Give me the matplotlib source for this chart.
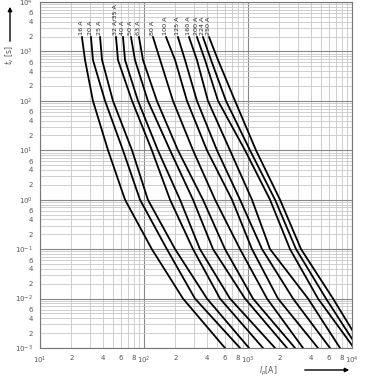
import math
import matplotlib
matplotlib.use("Agg")
import matplotlib.pyplot as plt
from matplotlib.patches import FancyArrowPatch
from matplotlib.ticker import LogLocator, FuncFormatter

# fuse ratings and the time levels the curves were read at
ratings = ['16 A', '20 A', '25 A', '32 A/35 A', '40 A', '50 A', '63 A',
           '80 A', '100 A', '125 A', '160 A', '200 A', '224 A', '250 A']
t_s = [1950, 670, 100, 10, 1, 0.1, 0.01, 0.001]

# prospective current [A] at each time level, one list per curve
i_16 = [25.3, 27.1, 32.3, 45.1, 65.7, 119, 237, 601]
i_20 = [30.9, 32.3, 42.2, 62.8, 91.5, 166, 309, 838]
i_25 = [37.8, 39.5, 50.3, 76.7, 109, 199, 403, 1023]
i_32 = [53.8, 56.2, 76.7, 119, 178, 296, 538, 1394]
i_40 = [62.8, 65.7, 87.6, 136, 222, 345, 671, 1820]
i_50 = [75, 81.9, 109, 178, 296, 461, 936, 2371]
i_63 = [89.5, 97.8, 133, 212, 369, 601, 1117, 2833]
i_80 = [122, 143, 190, 296, 482, 838, 1523, 3384]
i_100 = [163, 199, 259, 403, 702, 1092, 1943, 4711]
i_125 = [212, 248, 323, 503, 838, 1365, 2710, 6142]
i_160 = [271, 323, 412, 671, 1092, 1629, 3778, 7674]
i_200 = [323, 386, 515, 936, 1629, 2535, 4711, 10450]
i_224 = [369, 441, 614, 1045, 1820, 2897, 5623, 11400]
i_250 = [422, 515, 750, 1194, 2032, 3236, 6565, 12800]

curves = [i_16, i_20, i_25, i_32, i_40, i_50, i_63,
          i_80, i_100, i_125, i_160, i_200, i_224, i_250]

narrow = ['Liberation Sans Narrow', 'DejaVu Sans']
txt = '#555555'

fig = plt.figure(figsize=(3.67, 3.80), dpi=100)
ax = fig.add_axes([40 / 367, 1 - 348 / 380, 312 / 367, 346 / 380])
ax.set_xscale('log')
ax.set_yscale('log')
ax.set_xlim(10, 1e4)
ax.set_ylim(1e-3, 1e4)

for cur, name in zip(curves, ratings):
    ax.plot(cur, t_s, color='black', lw=1.3, solid_joinstyle='round', zorder=3)
    ax.text(cur[0] * 0.985, t_s[0] * 1.1, name, rotation=90, ha='center',
            va='bottom', fontsize=4.6, family=narrow, color='#222222')

# grid
ax.xaxis.set_major_locator(LogLocator(base=10, numticks=10))
ax.yaxis.set_major_locator(LogLocator(base=10, numticks=20))
ax.xaxis.set_minor_locator(LogLocator(base=10, subs=range(2, 10), numticks=20))
ax.yaxis.set_minor_locator(LogLocator(base=10, subs=range(2, 10), numticks=40))
ax.grid(which='major', color='#888888', lw=0.8)
ax.grid(which='minor', color='#c8c8c8', lw=0.6)
ax.set_axisbelow(True)


def dec_fmt(v, pos):
    return r'$10^{%d}$' % round(math.log10(v))


def digit(v):
    return int(round(v / 10 ** math.floor(math.log10(v) + 1e-9)))


ax.xaxis.set_major_formatter(FuncFormatter(dec_fmt))
ax.yaxis.set_major_formatter(FuncFormatter(dec_fmt))
ax.xaxis.set_minor_formatter(FuncFormatter(
    lambda v, p: str(digit(v)) if digit(v) in (2, 4, 6, 8) else ''))
ax.yaxis.set_minor_formatter(FuncFormatter(
    lambda v, p: str(digit(v)) if digit(v) in (2, 4, 6) else ''))
ax.tick_params(which='both', length=0, labelsize=5, labelcolor=txt, pad=5)
for s in ax.spines.values():
    s.set_color('#777777')
    s.set_linewidth(0.8)

# axis titles with arrows
fig.text(10 / 367, 1 - 55 / 380, r'$t_v$ [s]', rotation=90, ha='center',
         va='center', fontsize=5.5, color=txt)
fig.add_artist(FancyArrowPatch(
    (10 / 367, 1 - 44 / 380), (10 / 367, 1 - 4 / 380),
    transform=fig.transFigure, arrowstyle='-|>', mutation_scale=6,
    color='black', lw=1.0))
fig.text(268 / 367, 1 - 371 / 380, r'$I_p$[A]', ha='center', va='center',
         fontsize=5.5, color=txt)
fig.add_artist(FancyArrowPatch(
    (302 / 367, 1 - 370 / 380), (352 / 367, 1 - 370 / 380),
    transform=fig.transFigure, arrowstyle='-|>', mutation_scale=6,
    color='black', lw=1.0))

fig.savefig('out.png', dpi=100)
